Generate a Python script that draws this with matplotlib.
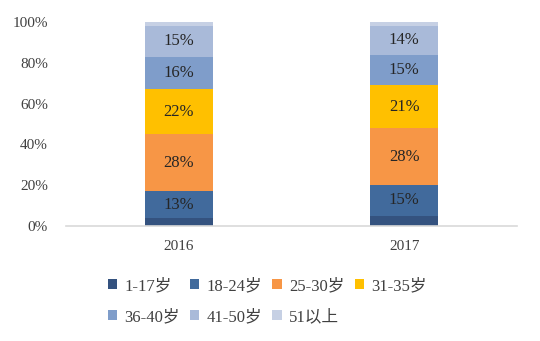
import matplotlib.pyplot as plt
import numpy as np

plt.rcParams['font.family'] = ['Liberation Serif', 'Noto Sans CJK SC', 'DejaVu Sans']

years = ["2016", "2017"]
groups = ["1-17岁", "18-24岁", "25-30岁", "31-35岁", "36-40岁", "41-50岁", "51以上"]
shares = {
    "1-17岁": [4, 5],
    "18-24岁": [13, 15],
    "25-30岁": [28, 28],
    "31-35岁": [22, 21],
    "36-40岁": [16, 15],
    "41-50岁": [15, 14],
    "51以上": [2, 2],
}
labelled = ["18-24岁", "25-30岁", "31-35岁", "36-40岁", "41-50岁"]
colors = ["#34527F", "#416A9C", "#F79646", "#FFC000", "#7F9DCA", "#A9BAD9", "#C6D0E4"]

fig = plt.figure(figsize=(5.4, 3.41), dpi=100)
ax = fig.add_axes([66 / 540, 115 / 341, 451 / 540, 204 / 341])

x = np.arange(len(years))
bottom = np.zeros(len(years))
handles = []
for name, color in zip(groups, colors):
    vals = np.array(shares[name], dtype=float)
    h = ax.bar(x, vals, 0.3, bottom=bottom, color=color, label=name)
    handles.append(h)
    if name in labelled:
        for xi, b, v in zip(x, bottom, vals):
            ax.text(xi, b + v / 2, f"{int(v)}%", ha="center", va="center",
                    fontsize=12, color="#262626")
    bottom += vals

ax.set_xlim(-0.5, 1.5)
ax.set_ylim(0, 100)
ax.set_xticks(x)
ax.set_xticklabels(years)
ax.set_yticks(np.arange(0, 101, 20))
ax.set_yticklabels([f"{v}%" for v in range(0, 101, 20)])
ax.tick_params(length=0, labelsize=11, colors="#404040", pad=10)
ax.tick_params(axis="y", pad=13)
for side in ["top", "right", "left"]:
    ax.spines[side].set_visible(False)
ax.spines["bottom"].set_color("#D9D9D9")
ax.spines["bottom"].set_linewidth(1.2)

# column-major order so rows read 1-17 .. 31-35, then 36-40 .. 51以上
order = [0, 4, 1, 5, 2, 6, 3]
fig.legend([handles[i] for i in order], [groups[i] for i in order],
           ncol=4, loc="upper left", bbox_to_anchor=(108 / 540, 1 - 278 / 341),
           frameon=False, fontsize=12, handlelength=0.55, handleheight=0.55,
           handletextpad=0.45, columnspacing=0.6, labelspacing=0.9,
           borderaxespad=0, borderpad=0, labelcolor="#404040")

fig.savefig("out.png", dpi=100)
